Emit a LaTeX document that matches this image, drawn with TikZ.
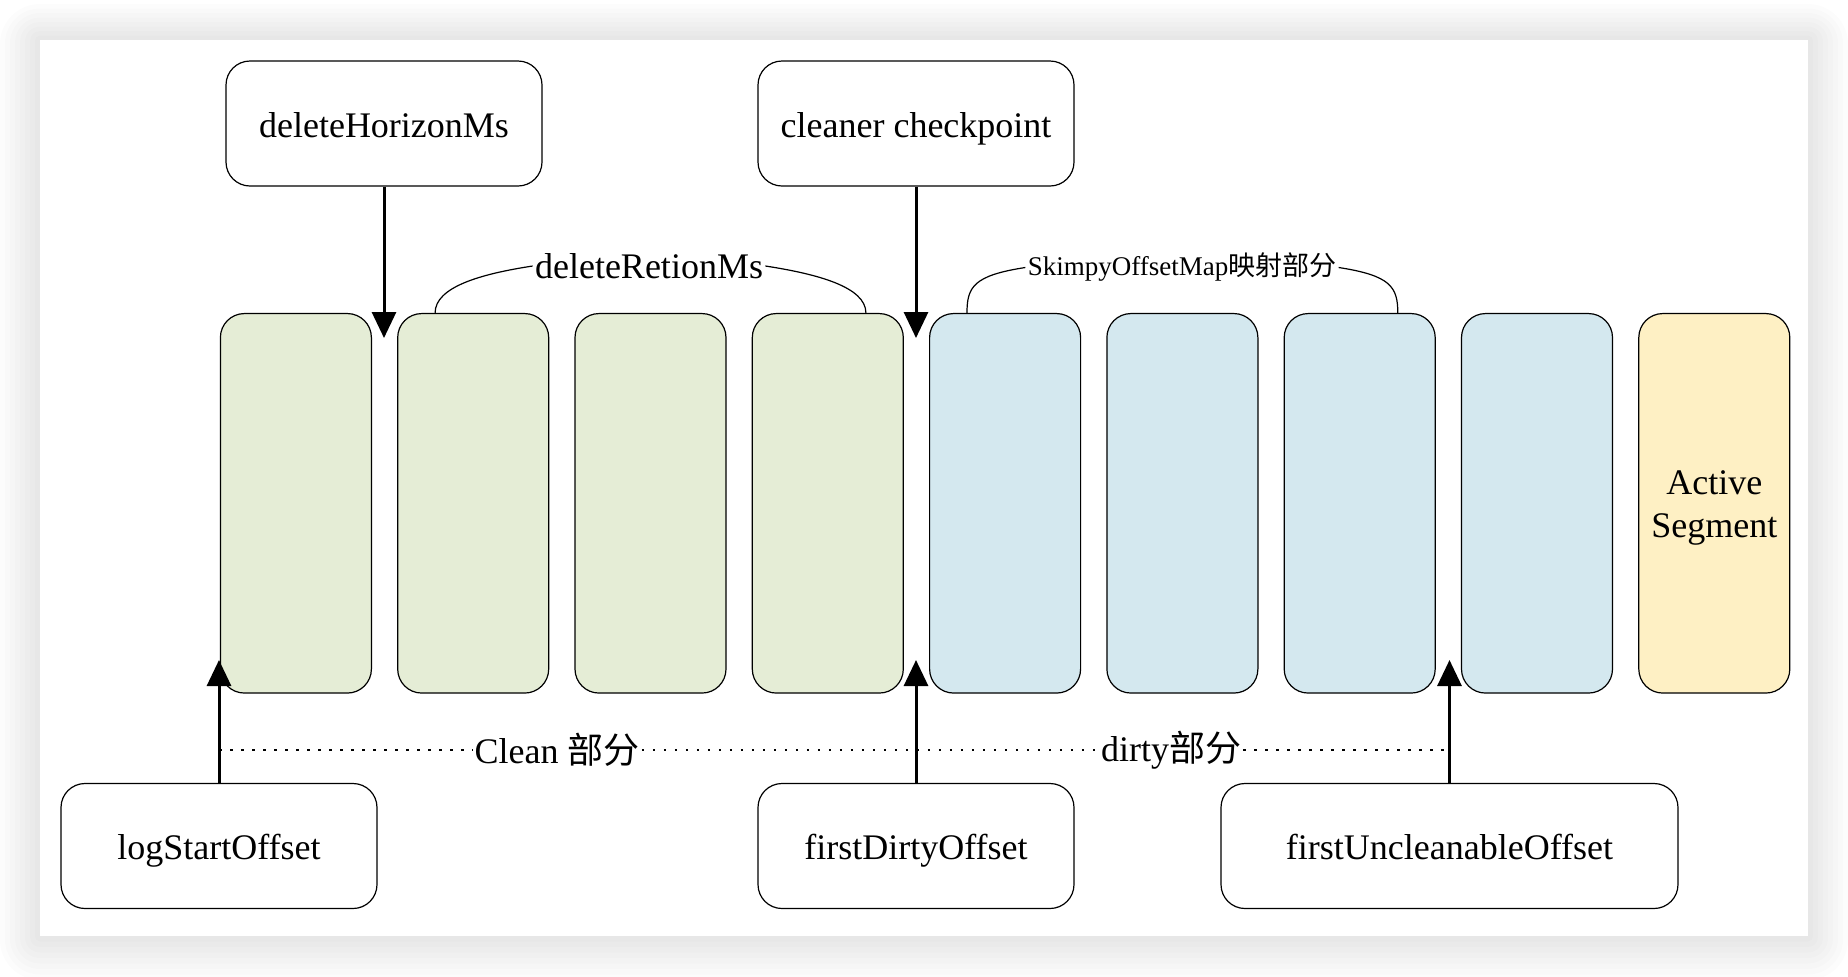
\documentclass[tikz,border=0pt]{standalone}
\usepackage{fontspec}
\setmainfont{Liberation Serif}
\newfontfamily\cjk{Noto Sans CJK SC}
\usetikzlibrary{arrows.meta}

\definecolor{cleangreen}{HTML}{E5EDD6}
\definecolor{dirtyblue}{HTML}{D4E8EF}
\definecolor{activeyellow}{HTML}{FEF0C4}

\tikzset{
  infobox/.style={draw, fill=white, rounded corners=12pt, line width=0.6pt,
    minimum width=158pt, minimum height=62.5pt, text height=16pt, text depth=2.5pt,
    font=\fontsize{18}{21}\selectfont},
  segbox/.style={draw, rounded corners=12pt, line width=0.6pt,
    minimum width=75.5pt, minimum height=189.75pt},
  marker/.style={-{Triangle[length=13pt,width=12pt]}, line width=1.5pt},
  bracket/.style={line width=0.6pt},
  part/.style={fill=white, inner sep=1pt, font=\fontsize{18}{21}\selectfont},
  dots/.style={line width=1.3pt, dash pattern=on 1.3pt off 4.2pt},
}

\begin{document}
\begin{tikzpicture}[x=5pt, y=-5pt]

\useasboundingbox (0, 0) rectangle (184.8, 97.6);
\fill [white] (0, 0) rectangle (184.8, 97.6);
% soft shadow round the panel
\foreach \r in {1,...,8}
  \fill [black, opacity=0.012, rounded corners=\r*2.5pt]
    (4-\r*0.5, 4-\r*0.45) rectangle (180.8+\r*0.5, 93.6+\r*0.55);
\fill [white] (4, 4) rectangle (180.8, 93.6);

% top boxes
\node [infobox] (horizon) at (38.4, 12.35) {deleteHorizonMs};
\node [infobox] (checkpoint) at (91.6, 12.35) {cleaner checkpoint};

% segments
\node [segbox, fill=cleangreen] (s1) at (29.59, 50.33) {};
\node [segbox, fill=cleangreen] (s2) at (47.32, 50.33) {};
\node [segbox, fill=cleangreen] (s3) at (65.05, 50.33) {};
\node [segbox, fill=cleangreen] (s4) at (82.78, 50.33) {};
\node [segbox, fill=dirtyblue] (s5) at (100.51, 50.33) {};
\node [segbox, fill=dirtyblue] (s6) at (118.24, 50.33) {};
\node [segbox, fill=dirtyblue] (s7) at (135.97, 50.33) {};
\node [segbox, fill=dirtyblue] (s8) at (153.7, 50.33) {};
\node [segbox, fill=activeyellow,
  label={[align=center, yshift=-2.4pt, font=\fontsize{18}{21.5}\selectfont]center:Active\\Segment}]
  (active) at (171.43, 50.33) {};

% brackets
\node [part] (retion) at (64.9, 26.6) {deleteRetionMs};
\node [part, font=\fontsize{13.5}{16}\selectfont] (skimpy) at (118.2, 26.75) {SkimpyOffsetMap{\cjk 映射部分}};
\draw [bracket] ([xshift=19pt]s2.north west) .. controls +(0, 13pt) and +(-26pt, -4pt) .. (retion.west);
\draw [bracket] (retion.east) .. controls +(26pt, -4pt) and +(0, 13pt) .. ([xshift=-19pt]s4.north east);
\draw [bracket] ([xshift=19pt]s5.north west) .. controls +(0, 13pt) and +(-26pt, -4pt) .. (skimpy.west);
\draw [bracket] (skimpy.east) .. controls +(26pt, -4pt) and +(0, 13pt) .. ([xshift=-19pt]s7.north east);

% bottom boxes
\node [infobox] (logstart) at (21.9, 84.6) {logStartOffset};
\node [infobox] (firstdirty) at (91.6, 84.6) {firstDirtyOffset};
\node [infobox, minimum width=228.5pt] (uncleanable) at (144.95, 84.6) {firstUncleanableOffset};

% arrows
\coordinate (horizontip) at (38.4, 33.8);
\coordinate (checkpointtip) at (91.6, 33.8);
\coordinate (logstarttip) at (21.9, 66);
\coordinate (firstdirtytip) at (91.6, 66);
\coordinate (uncleanabletip) at (144.95, 66);
\draw [marker] (horizon.south) -- (horizontip);
\draw [marker] (checkpoint.south) -- (checkpointtip);
\draw [marker] (logstart.north) -- (logstarttip);
\draw [marker] (firstdirty.north) -- (firstdirtytip);
\draw [marker] (uncleanable.north) -- (uncleanabletip);

% clean / dirty line
\coordinate (linestart) at (21.9, 75);
\coordinate (lineend) at (144.95, 75);
\node [part] (clean) at (55.7, 75) {Clean {\cjk 部分}};
\node [part] (dirty) at (117.1, 75) {dirty{\cjk 部分}};
\draw [dots] (linestart) -- (clean.west);
\draw [dots] (clean.east) -- (dirty.west);
\draw [dots] (dirty.east) -- (lineend);

\end{tikzpicture}
\end{document}
